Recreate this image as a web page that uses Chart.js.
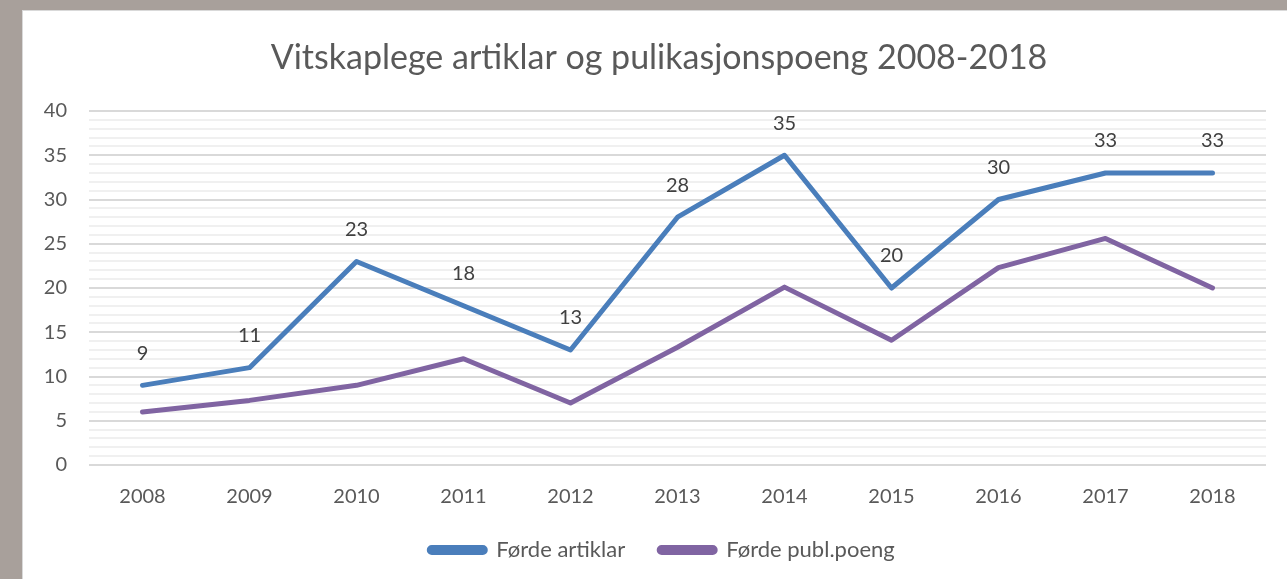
<!DOCTYPE html>
<html>
<head>
<meta charset="utf-8">
<script src="https://cdn.jsdelivr.net/npm/chart.js@4"></script>
<style>
    html, body { margin: 0; padding: 0; overflow: hidden; width: 1287px; height: 579px; background: #a8a09b; }
    #card { position: absolute; left: 22px; top: 10px; width: 1300px; height: 600px; background: #ffffff; border: 1px solid #d9d9d9; box-sizing: border-box; overflow: hidden; }
    #chart { position: absolute; left: 0; top: 0; }
</style>
</head>
<body>
<div id="card"><canvas id="chart" width="1300" height="569"></canvas></div>
<script>
// Chart data
const years = ["2008", "2009", "2010", "2011", "2012", "2013", "2014", "2015", "2016", "2017", "2018"];
const artiklar = [9, 11, 23, 18, 13, 28, 35, 20, 30, 33, 33];
const publPoeng = [6, 7.3, 9, 12, 7, 13.3, 20.1, 14.1, 22.3, 25.6, 20];
const seriesNames = ["Førde artiklar", "Førde publ.poeng"];
const chartTitle = "Vitskaplege artiklar og pulikasjonspoeng 2008-2018";

const fontFamily = "Lato, 'Open Sans', sans-serif";
const textColor = "#595959";

// Title is drawn by hand so it can sit a bit left of the plot centre, like the original
const titleText = {
    id: "titleText",
    afterDraw(chart) {
        const ctx = chart.ctx;
        ctx.save();
        ctx.font = "34px " + fontFamily;
        ctx.fillStyle = textColor;
        ctx.textAlign = "center";
        ctx.textBaseline = "middle";
        ctx.fillText(chartTitle, 636, 47);
        ctx.restore();
    }
};

// Draws the value above each point of the first series
const valueLabels = {
    id: "valueLabels",
    afterDatasetsDraw(chart) {
        const ctx = chart.ctx;
        const meta = chart.getDatasetMeta(0);
        ctx.save();
        ctx.font = "20px " + fontFamily;
        ctx.fillStyle = "#404040";
        ctx.textAlign = "center";
        ctx.textBaseline = "middle";
        meta.data.forEach((pt, i) => {
            ctx.fillText(String(artiklar[i]), pt.x, pt.y - 32);
        });
        ctx.restore();
    }
};

new Chart(document.getElementById("chart"), {
    type: "line",
    data: {
        labels: years,
        datasets: [
            {
                label: seriesNames[0],
                data: artiklar,
                borderColor: "#4a7ebb",
                backgroundColor: "#4a7ebb",
                borderWidth: 5,
                pointRadius: 0,
                borderCapStyle: "round",
                borderJoinStyle: "round",
                tension: 0
            },
            {
                label: seriesNames[1],
                data: publPoeng,
                borderColor: "#8064a2",
                backgroundColor: "#8064a2",
                borderWidth: 5,
                pointRadius: 0,
                borderCapStyle: "round",
                borderJoinStyle: "round",
                tension: 0
            }
        ]
    },
    options: {
        responsive: false,
        animation: false,
        layout: { padding: { top: 100, left: 0, right: 22, bottom: 9 } },
        plugins: {
            title: { display: false },
            legend: {
                position: "bottom",
                labels: {
                    color: textColor,
                    font: { family: fontFamily, size: 22 },
                    boxWidth: 56,
                    boxHeight: 5,
                    useBorderRadius: true,
                    borderRadius: 2.5,
                    padding: 34
                }
            },
            tooltip: { enabled: false }
        },
        scales: {
            x: {
                offset: true,
                grid: { display: false, drawTicks: false },
                border: { display: false },
                ticks: { color: textColor, font: { family: fontFamily, size: 20 }, padding: 20 },
                afterFit(scale) { scale.height = 40; }
            },
            y: {
                min: 0,
                max: 40,
                grid: {
                    drawTicks: false,
                    lineWidth: 2,
                    color: c => (c.tick.value % 5 === 0 ? "#d9d9d9" : "#f0f0f0")
                },
                border: { display: false },
                ticks: {
                    stepSize: 1,
                    autoSkip: false,
                    color: textColor,
                    font: { family: fontFamily, size: 20 },
                    padding: 22,
                    callback: v => (v % 5 === 0 ? v : "")
                },
                afterFit(scale) { scale.width = 66; }
            },
            // empty strip on the right so the plot ends where the original does
            yRight: {
                position: "right",
                grid: { display: false },
                border: { display: false },
                ticks: { display: false },
                afterFit(scale) { scale.width = 35; }
            }
        }
    },
    plugins: [valueLabels, titleText]
});
</script>
</body>
</html>
